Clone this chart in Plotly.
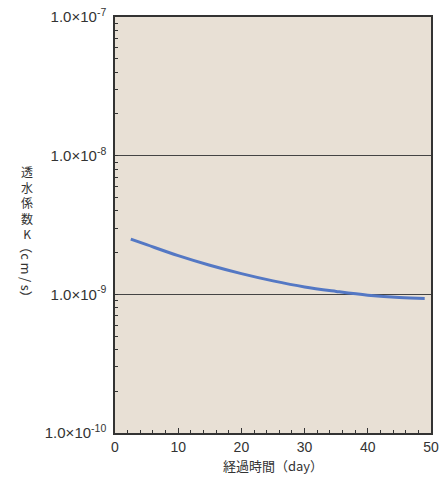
import plotly.graph_objects as go

days = [2.5, 5, 10, 15, 20, 25, 30, 35, 40, 45, 49]
k_values = [2.50e-9, 2.28e-9, 1.90e-9, 1.62e-9, 1.41e-9, 1.25e-9, 1.13e-9, 1.05e-9, 0.985e-9, 0.947e-9, 0.935e-9]

y_tickvals = [1e-10, 1e-9, 1e-8, 1e-7]
y_ticktext = ["1.0×10<sup>-10</sup>", "1.0×10<sup>-9</sup>", "1.0×10<sup>-8</sup>", "1.0×10<sup>-7</sup>"]
x_tickvals = [0, 10, 20, 30, 40, 50]

y_minor = [m * 10.0 ** e for e in (-10, -9, -8) for m in range(2, 10)]
x_minor = [v for v in range(0, 51, 2) if v % 10 != 0]

num_font = "Liberation Sans, Arial, sans-serif"
jp_font = "Noto Sans CJK JP, sans-serif"

fig = go.Figure()
fig.add_trace(go.Scatter(
    x=days, y=k_values, mode="lines",
    line=dict(color="#5478C4", width=3, shape="spline"),
    showlegend=False, hoverinfo="skip",
))

fig.update_layout(
    width=442, height=488,
    margin=dict(l=115, r=11, t=17, b=55),
    paper_bgcolor="white",
    plot_bgcolor="#E8E0D5",
    xaxis=dict(
        range=[0, 50], tickmode="array", tickvals=x_tickvals,
        ticks="inside", ticklen=5, tickcolor="#333",
        showgrid=False, zeroline=False, automargin=False,
        showline=True, linecolor="#333", linewidth=1.5, mirror=True,
        tickfont=dict(family=num_font, size=14, color="#333"),
        minor=dict(tickmode="array", tickvals=x_minor, ticks="inside", ticklen=3, tickcolor="#333", showgrid=False),
        title=dict(text="経過時間（day）", font=dict(family=jp_font, size=13, color="#333"), standoff=8),
    ),
    yaxis=dict(
        type="log", range=[-10, -7], tickmode="array",
        tickvals=y_tickvals, ticktext=y_ticktext,
        ticks="inside", ticklen=3, tickcolor="#333",
        ticklabelstandoff=4,
        showgrid=True, gridcolor="#444", gridwidth=1,
        zeroline=False, automargin=False,
        showline=True, linecolor="#333", linewidth=1.5, mirror=True,
        tickfont=dict(family=num_font, size=15, color="#333"),
        minor=dict(tickmode="array", tickvals=y_minor, ticks="inside", ticklen=3, tickcolor="#333", showgrid=False),
    ),
)

fig.add_annotation(
    text="透<br>水<br>係<br>数<br>K", xref="paper", yref="paper",
    x=-0.278, y=0.655, xanchor="center", yanchor="top", showarrow=False,
    font=dict(family=jp_font, size=12, color="#333"),
)
fig.add_annotation(
    text="（c\u2009m\u2009/\u2009s）", xref="paper", yref="paper", textangle=90,
    x=-0.278, y=0.468, xanchor="center", yanchor="top", showarrow=False,
    font=dict(family=jp_font, size=13, color="#333"),
)

fig.write_html("out.html", config={"displayModeBar": False},
               post_script="document.body.style.margin='0';")
